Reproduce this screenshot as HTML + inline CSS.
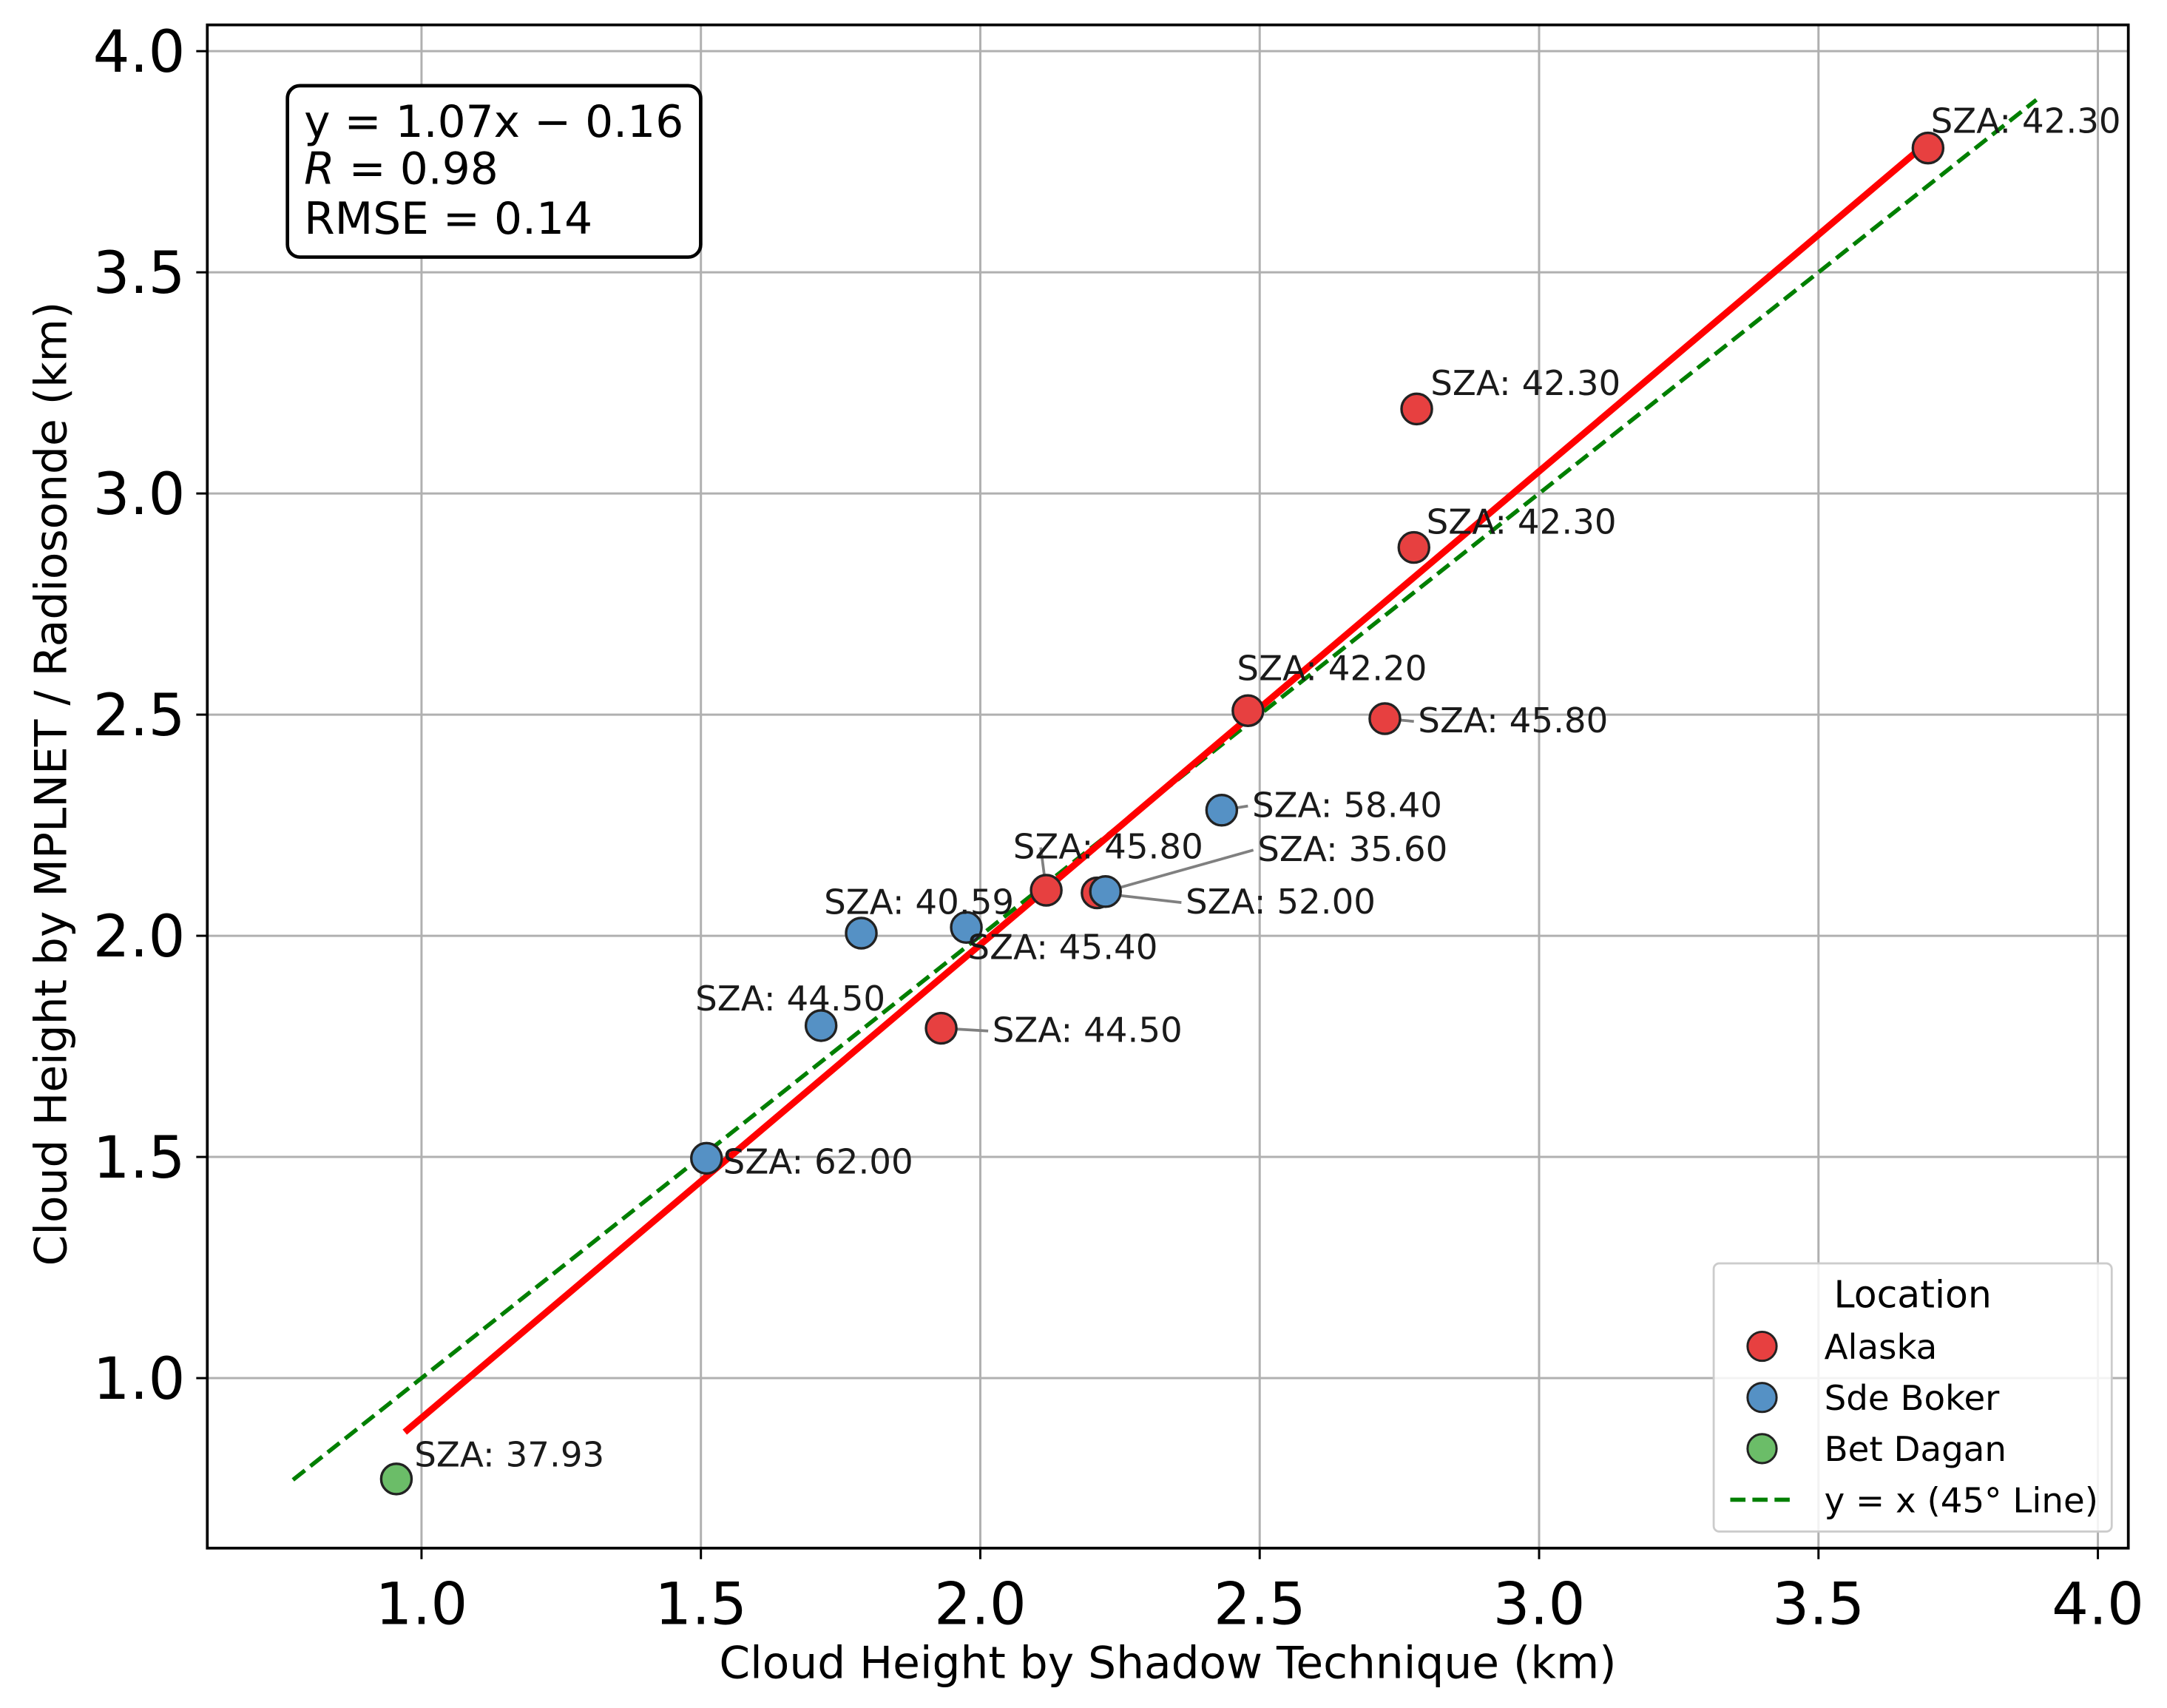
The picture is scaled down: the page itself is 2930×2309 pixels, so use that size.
<!DOCTYPE html>
<html><head><meta charset="utf-8"><style>html,body{margin:0;padding:0;background:#fff}svg{display:block}</style></head>
<body>
<svg id="chart" width="2930" height="2309" viewBox="0 0 1568 1235.65" xmlns="http://www.w3.org/2000/svg" font-family="'DejaVu Sans','Liberation Sans',sans-serif">
<rect width="1568" height="1236" fill="#fff"/>
<g id="grid"></g>
<g id="lines"></g>
<g id="leaders"></g>
<g id="points"></g>
<g id="labels" font-size="25" fill="#1a1a1a"></g>
<rect x="150" y="18" width="1390" height="1102" fill="none" stroke="#000" stroke-width="2"/>
<g id="ticks" font-size="42" fill="#000"></g>
<text x="845" y="1214" font-size="32" text-anchor="middle">Cloud Height by Shadow Technique (km)</text>
<text transform="translate(48,567) rotate(-90)" font-size="32" text-anchor="middle">Cloud Height by MPLNET / Radiosonde (km)</text>
<g>
<rect x="208" y="62" width="299" height="124" rx="9" fill="#fff" stroke="#000" stroke-width="2.5"/>
<text x="220" y="99" font-size="32">y = 1.07x − 0.16</text>
<text x="220" y="133" font-size="32"><tspan font-style="italic">R</tspan> = 0.98</text>
<text x="220" y="169" font-size="32">RMSE = 0.14</text>
</g>
<g>
<rect x="1240" y="914" width="288" height="194" rx="4" fill="#fff" fill-opacity="0.85" stroke="#ccc" stroke-width="1.5"/>
<text x="1384" y="946" font-size="27" text-anchor="middle">Location</text>
<g><circle cx="1275" cy="974" r="10.5" fill="#e74040" stroke="#222" stroke-width="1.6"/><text x="1320" y="983" font-size="25">Alaska</text></g>
<g><circle cx="1275" cy="1011" r="10.5" fill="#5591c5" stroke="#222" stroke-width="1.6"/><text x="1320" y="1020" font-size="25">Sde Boker</text></g>
<g><circle cx="1275" cy="1048" r="10.5" fill="#6bbd68" stroke="#222" stroke-width="1.6"/><text x="1320" y="1057" font-size="25">Bet Dagan</text></g>
<g><line x1="1252" y1="1085" x2="1298" y2="1085" stroke="#007f00" stroke-width="3" stroke-dasharray="11,5"/><text x="1320" y="1094" font-size="25">y = x (45° Line)</text></g>
</g>
<script>
const xs = [3.696, 2.781, 2.776, 2.479, 2.724, 2.118, 2.209, 1.930, 2.432, 2.224, 1.975, 1.787, 1.715, 1.510, 0.955];
const ys = [3.781, 3.191, 2.878, 2.509, 2.491, 2.103, 2.097, 1.791, 2.284, 2.100, 2.019, 2.006, 1.797, 1.497, 0.772];
const locs = ["Alaska","Alaska","Alaska","Alaska","Alaska","Alaska","Alaska","Alaska","Sde Boker","Sde Boker","Sde Boker","Sde Boker","Sde Boker","Sde Boker","Bet Dagan"];
const sza = ["42.30","42.30","42.30","42.20","45.80","45.80","52.00","44.50","58.40","35.60","45.40","40.59","44.50","62.00","37.93"];
// label layout offsets (px from point), not data
const layoutOffX = [2, 10, 9, -8, 24, -24, 64, 37, 22, 110, 1, -27, -91, 12, 13];
const layoutOffY = [-11, -10, -10, -22, 10, -23, 15, 10, 5, -22, 23, -14, -11, 11, -9];
const leader = [0,0,0,0,1,1,1,1,1,1,0,0,0,0,0];
const xTicks = [1.0, 1.5, 2.0, 2.5, 3.0, 3.5, 4.0];
const yTicks = [1.0, 1.5, 2.0, 2.5, 3.0, 3.5, 4.0];
const fitSlope = 1.07, fitIntercept = -0.16;
const identityRange = [0.77, 3.89];
const colors = {"Alaska":"#e74040","Sde Boker":"#5591c5","Bet Dagan":"#6bbd68"};
const X = v => 305 + (v - 1) * 404.33;
const Y = v => 997 - (v - 1) * 320;
const NS = "http://www.w3.org/2000/svg";
function mk(tag, attrs, parent){const e=document.createElementNS(NS,tag);for(const k in attrs)e.setAttribute(k,attrs[k]);parent.appendChild(e);return e;}
const grid=document.getElementById('grid'), ticks=document.getElementById('ticks');
xTicks.forEach(t=>{
  const g=mk('line',{x1:X(t),x2:X(t),y1:18,y2:1120,stroke:'#b0b0b0','stroke-width':1.6},grid);
  
  
  const tk=mk('line',{x1:X(t),x2:X(t),y1:1120,y2:1128,stroke:'#000','stroke-width':1.6},ticks);
  
  
  const tl=mk('text',{x:X(t),y:1175,'text-anchor':'middle'},ticks);tl.textContent=t.toFixed(1);
  
  
});
yTicks.forEach(t=>{
  const g=mk('line',{x1:150,x2:1540,y1:Y(t),y2:Y(t),stroke:'#b0b0b0','stroke-width':1.6},grid);
  
  
  const tk=mk('line',{x1:142,x2:150,y1:Y(t),y2:Y(t),stroke:'#000','stroke-width':1.6},ticks);
  
  
  const tl=mk('text',{x:134,y:Y(t)+15,'text-anchor':'end'},ticks);tl.textContent=t.toFixed(1);
  
  
});
const lines=document.getElementById('lines');
const idl=mk('line',{x1:X(identityRange[0]),y1:Y(identityRange[0]),x2:X(identityRange[1]),y2:Y(identityRange[1]),stroke:'#007f00','stroke-width':3,'stroke-dasharray':'11,5'},lines);


const xmin=Math.min(...xs)+0.015, xmax=Math.max(...xs);
const fl=mk('line',{x1:X(xmin),y1:Y(fitSlope*xmin+fitIntercept),x2:X(xmax),y2:Y(fitSlope*xmax+fitIntercept),stroke:'#ff0000','stroke-width':4.8},lines);


const pts=document.getElementById('points'), labs=document.getElementById('labels'), lds=document.getElementById('leaders');
xs.forEach((x,i)=>{
  const px=X(x), py=Y(ys[i]);
  const tx=px+layoutOffX[i], ty=py+layoutOffY[i];
  if(leader[i]){
    const ex = layoutOffX[i] > 0 ? tx-3 : tx+20;
    const l=mk('line',{x1:px,y1:py,x2:ex,y2:ty-8,stroke:'#808080','stroke-width':2},lds);
    
    
  }
  const c=mk('circle',{cx:px,cy:py,r:11,fill:colors[locs[i]],stroke:'#222','stroke-width':1.8},pts);
  
  
  const t=mk('text',{x:tx,y:ty},labs);t.textContent='SZA: '+sza[i];
  
  
});
</script>
</svg>
</body></html>
